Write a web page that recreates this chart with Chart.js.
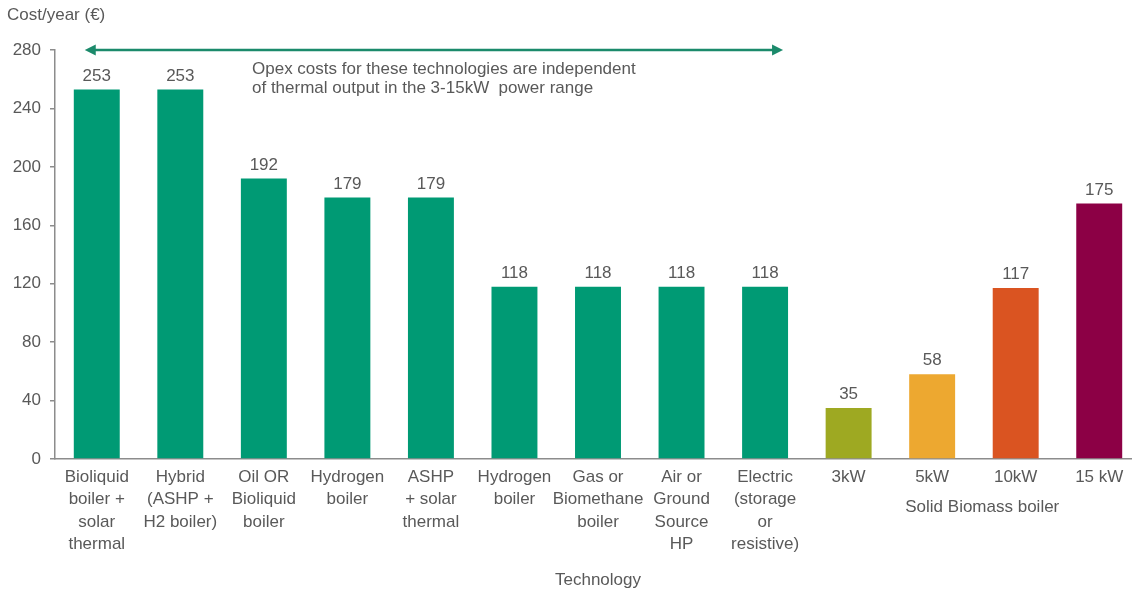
<!DOCTYPE html>
<html>
<head>
<meta charset="utf-8">
<script src="https://cdn.jsdelivr.net/npm/chart.js@4.4.1/dist/chart.umd.min.js"></script>
<style>
  html, body { margin: 0; padding: 0; background: #fff; overflow: hidden; }
  #wrap { width: 1132px; height: 591px; overflow: hidden; }
</style>
</head>
<body>
<div id="wrap"><canvas id="opex" width="1141" height="591"></canvas></div>
<script>
// technologies on the x axis (each entry is wrapped onto several lines)
const technologies = [
  ['Bioliquid', 'boiler +', 'solar', 'thermal'],
  ['Hybrid', '(ASHP +', 'H2 boiler)'],
  ['Oil OR', 'Bioliquid', 'boiler'],
  ['Hydrogen', 'boiler'],
  ['ASHP', '+ solar', 'thermal'],
  ['Hydrogen', 'boiler'],
  ['Gas or', 'Biomethane', 'boiler'],
  ['Air or', 'Ground', 'Source', 'HP'],
  ['Electric', '(storage', 'or', 'resistive)'],
  ['3kW'],
  ['5kW'],
  ['10kW'],
  ['15 kW']
];
const costPerYear = [253, 253, 192, 179, 179, 118, 118, 118, 118, 35, 58, 117, 175];
const barColors = [
  '#009a74', '#009a74', '#009a74', '#009a74', '#009a74', '#009a74',
  '#009a74', '#009a74', '#009a74', '#9ea922', '#eda830', '#da5421', '#8c0045'
];
const yTicks = [0, 40, 80, 120, 160, 200, 240, 280];
const noteLines = [
  'Opex costs for these technologies are independent',
  'of thermal output in the 3-15kW  power range'
];

const grey = '#595959';
const font = 'Liberation Sans, Arial, sans-serif';

// labels on top of bars, arrow + note, biomass group label, y title
const extras = {
  id: 'extras',
  afterDatasetsDraw(chart) {
    const ctx = chart.ctx;
    const x = chart.scales.x, y = chart.scales.y;
    ctx.save();
    ctx.fillStyle = grey;
    ctx.font = '17px ' + font;
    ctx.textAlign = 'center';
    ctx.textBaseline = 'bottom';
    chart.getDatasetMeta(0).data.forEach((bar, i) => {
      ctx.fillText(costPerYear[i], bar.x, bar.y - 5);
    });

    // double headed arrow over the first nine technologies
    const ay = y.getPixelForValue(280);
    const ax1 = x.getPixelForValue(0) - 12;
    const ax2 = x.getPixelForValue(8) + 18;
    ctx.strokeStyle = '#1b8a6b';
    ctx.fillStyle = '#1b8a6b';
    ctx.lineWidth = 2.5;
    ctx.beginPath();
    ctx.moveTo(ax1 + 8, ay);
    ctx.lineTo(ax2 - 8, ay);
    ctx.stroke();
    ctx.beginPath();
    ctx.moveTo(ax1, ay); ctx.lineTo(ax1 + 11, ay - 5.5); ctx.lineTo(ax1 + 11, ay + 5.5);
    ctx.closePath(); ctx.fill();
    ctx.beginPath();
    ctx.moveTo(ax2, ay); ctx.lineTo(ax2 - 11, ay - 5.5); ctx.lineTo(ax2 - 11, ay + 5.5);
    ctx.closePath(); ctx.fill();

    ctx.fillStyle = grey;
    ctx.textAlign = 'left';
    ctx.textBaseline = 'middle';
    ctx.fillText(noteLines[0], 252, y.getPixelForValue(267));
    ctx.fillText(noteLines[1], 252, y.getPixelForValue(253.6));

    ctx.textAlign = 'center';
    ctx.fillText('Solid Biomass boiler', x.getPixelForValue(10.6), y.bottom + 48);

    ctx.textAlign = 'left';
    ctx.fillText('Cost/year (€)', 7, 15);
    ctx.restore();
  }
};

new Chart(document.getElementById('opex'), {
  type: 'bar',
  data: {
    labels: technologies,
    datasets: [{
      data: costPerYear,
      backgroundColor: barColors,
      barPercentage: 0.55,
      categoryPercentage: 1
    }]
  },
  options: {
    responsive: false,
    animation: false,
    layout: { padding: { top: 50, left: 0, right: 0, bottom: 0 } },
    plugins: { legend: { display: false }, tooltip: { enabled: false } },
    scales: {
      x: {
        afterFit(s) { s.height = 132; },
        grid: { display: false },
        border: { color: '#8c8c8c', width: 1.5 },
        ticks: {
          color: grey,
          font: { family: font, size: 17, lineHeight: 1.32 },
          maxRotation: 0,
          autoSkip: false,
          padding: -1
        },
        title: {
          display: true,
          text: 'Technology',
          color: grey,
          font: { family: font, size: 17 },
          padding: { top: 0, bottom: 0 }
        }
      },
      y: {
        min: 0,
        max: 280,
        afterFit(s) { s.width = 55; },
        afterBuildTicks(s) { s.ticks = yTicks.map(v => ({ value: v })); },
        grid: { drawOnChartArea: false, tickLength: 5, color: '#8c8c8c', lineWidth: 1.5 },
        border: { color: '#8c8c8c', width: 1.5 },
        ticks: {
          color: grey,
          font: { family: font, size: 17 },
          padding: 9
        }
      }
    }
  },
  plugins: [extras]
});
</script>
</body>
</html>
